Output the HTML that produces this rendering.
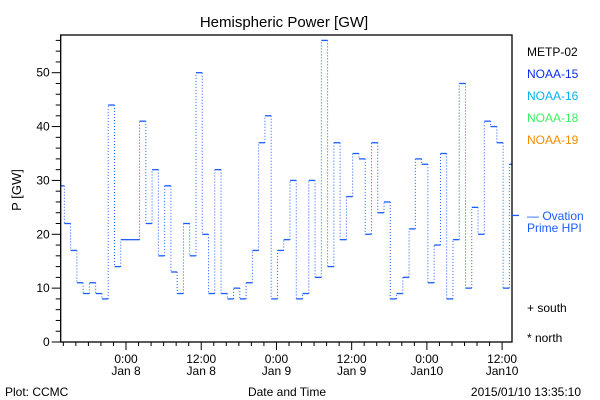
<!DOCTYPE html>
<html><head><meta charset="utf-8"><style>
body{margin:0;background:#fff;}
svg{display:block;font-family:"Liberation Sans",sans-serif;}
</style></head><body>
<svg id="chart" width="600" height="400" viewBox="0 0 600 400">
<rect x="0" y="0" width="600" height="400" fill="#fff"/>
<text x="284" y="27" font-size="15" text-anchor="middle" fill="#000">Hemispheric Power [GW]</text>
<text x="0" y="0" font-size="13" text-anchor="middle" transform="translate(21,190) rotate(-90)" fill="#000">P [GW]</text>
<g id="series"></g>
<g id="axes"></g>
<text x="527" y="56" font-size="12" fill="#000">METP-02</text>
<text x="527" y="78" font-size="12" fill="#0a2cf0">NOAA-15</text>
<text x="527" y="100" font-size="12" fill="#00b4f0">NOAA-16</text>
<text x="527" y="122" font-size="12" fill="#3cf060">NOAA-18</text>
<text x="527" y="144" font-size="12" fill="#f08c00">NOAA-19</text>
<text x="527" y="220" font-size="12" fill="#1a5cff">— Ovation</text>
<text x="527" y="232" font-size="12" fill="#1a5cff">Prime HPI</text>
<text x="527" y="312" font-size="12" fill="#000">+ south</text>
<text x="527" y="342" font-size="12" fill="#000">* north</text>
<text x="5" y="396" font-size="12" fill="#000">Plot: CCMC</text>
<text x="287" y="396" font-size="12" text-anchor="middle" fill="#000">Date and Time</text>
<text x="581" y="396" font-size="12" text-anchor="end" fill="#000">2015/01/10 13:35:10</text>
</svg>
<script>
// hourly hemispheric power values (GW), NOAA-15
const values = [29,22,17,11,9,11,9,8,44,14,19,19,19,41,22,32,16,29,13,9,22,16,50,20,9,32,9,8,10,8,11,17,37,42,8,17,19,30,8,9,30,12,56,14,37,19,27,35,34,20,37,24,26,8,9,12,21,34,33,11,18,35,8,19,48,10,25,20,41,40,37,10,33];
const firstStepHour = -9.84; // hours from Jan 8 00:00 where value[1] begins
const xDomain = [-10.42, 61.58];
const yDomain = [0, 57];
const yTicks = [0,10,20,30,40,50];
const xTickHours = [0,12,24,36,48,60];
const xTickLabels = [["0:00","Jan 8"],["12:00","Jan 8"],["0:00","Jan 9"],["12:00","Jan 9"],["0:00","Jan10"],["12:00","Jan10"]];
const ovation = 23.5;

const L=60.7,R=512,T=35,B=342;
const NS='http://www.w3.org/2000/svg';
const xs=h=>L+(h-xDomain[0])/(xDomain[1]-xDomain[0])*(R-L);
const ys=v=>B-(v-yDomain[0])/(yDomain[1]-yDomain[0])*(B-T);
function mk(tag,attrs,parent){const e=document.createElementNS(NS,tag);for(const k in attrs)e.setAttribute(k,attrs[k]);parent.appendChild(e);return e;}
const sg=document.getElementById('series'), ag=document.getElementById('axes');
const col='#1a5cff';
for(let i=0;i<values.length;i++){
  const h0=i===0?xDomain[0]:firstStepHour+(i-1);
  const h1=Math.min(firstStepHour+i,xDomain[1]);
  const y=ys(values[i]);
  const s=mk('line',{x1:xs(h0),x2:xs(h1),y1:y,y2:y,stroke:col,'stroke-width':1.3},sg);
  
  
  if(i>0){
    const d=mk('line',{x1:xs(h0),x2:xs(h0),y1:ys(values[i-1]),y2:y,stroke:col,'stroke-width':1,'stroke-dasharray':'1,2'},sg);
    
    
  }
}
const fr=mk('rect',{x:L,y:T,width:R-L,height:B-T,fill:'none',stroke:'#000','stroke-width':1.3},ag);


for(let v=0;v<=56;v+=2){
  const y=ys(v);const major=v%10===0;
  const t=mk('line',{x1:L-(major?9:5),x2:L,y1:y,y2:y,stroke:'#000','stroke-width':1},ag);
  
  
}
yTicks.forEach(v=>{
  const t=mk('text',{x:L-11,y:ys(v)+4,'font-size':12,'text-anchor':'end',fill:'#000'},ag);
  t.textContent=v;
  
  
});
for(let h=-10;h<=61;h+=2){
  const x=xs(h);const major=h%12===0;
  const t=mk('line',{x1:x,x2:x,y1:B,y2:B+(major?8:4),stroke:'#000','stroke-width':1},ag);
  
  
}
xTickHours.forEach((h,i)=>{
  const x=xs(h);
  xTickLabels[i].forEach((s,j)=>{
    const t=mk('text',{x:x,y:363+j*12,'font-size':12,'text-anchor':'middle',fill:'#000'},ag);
    t.textContent=s;
    
    
  });
});
const om=mk('line',{x1:R,x2:R+7,y1:ys(ovation),y2:ys(ovation),stroke:col,'stroke-width':1.3},ag);


</script>
</body></html>
